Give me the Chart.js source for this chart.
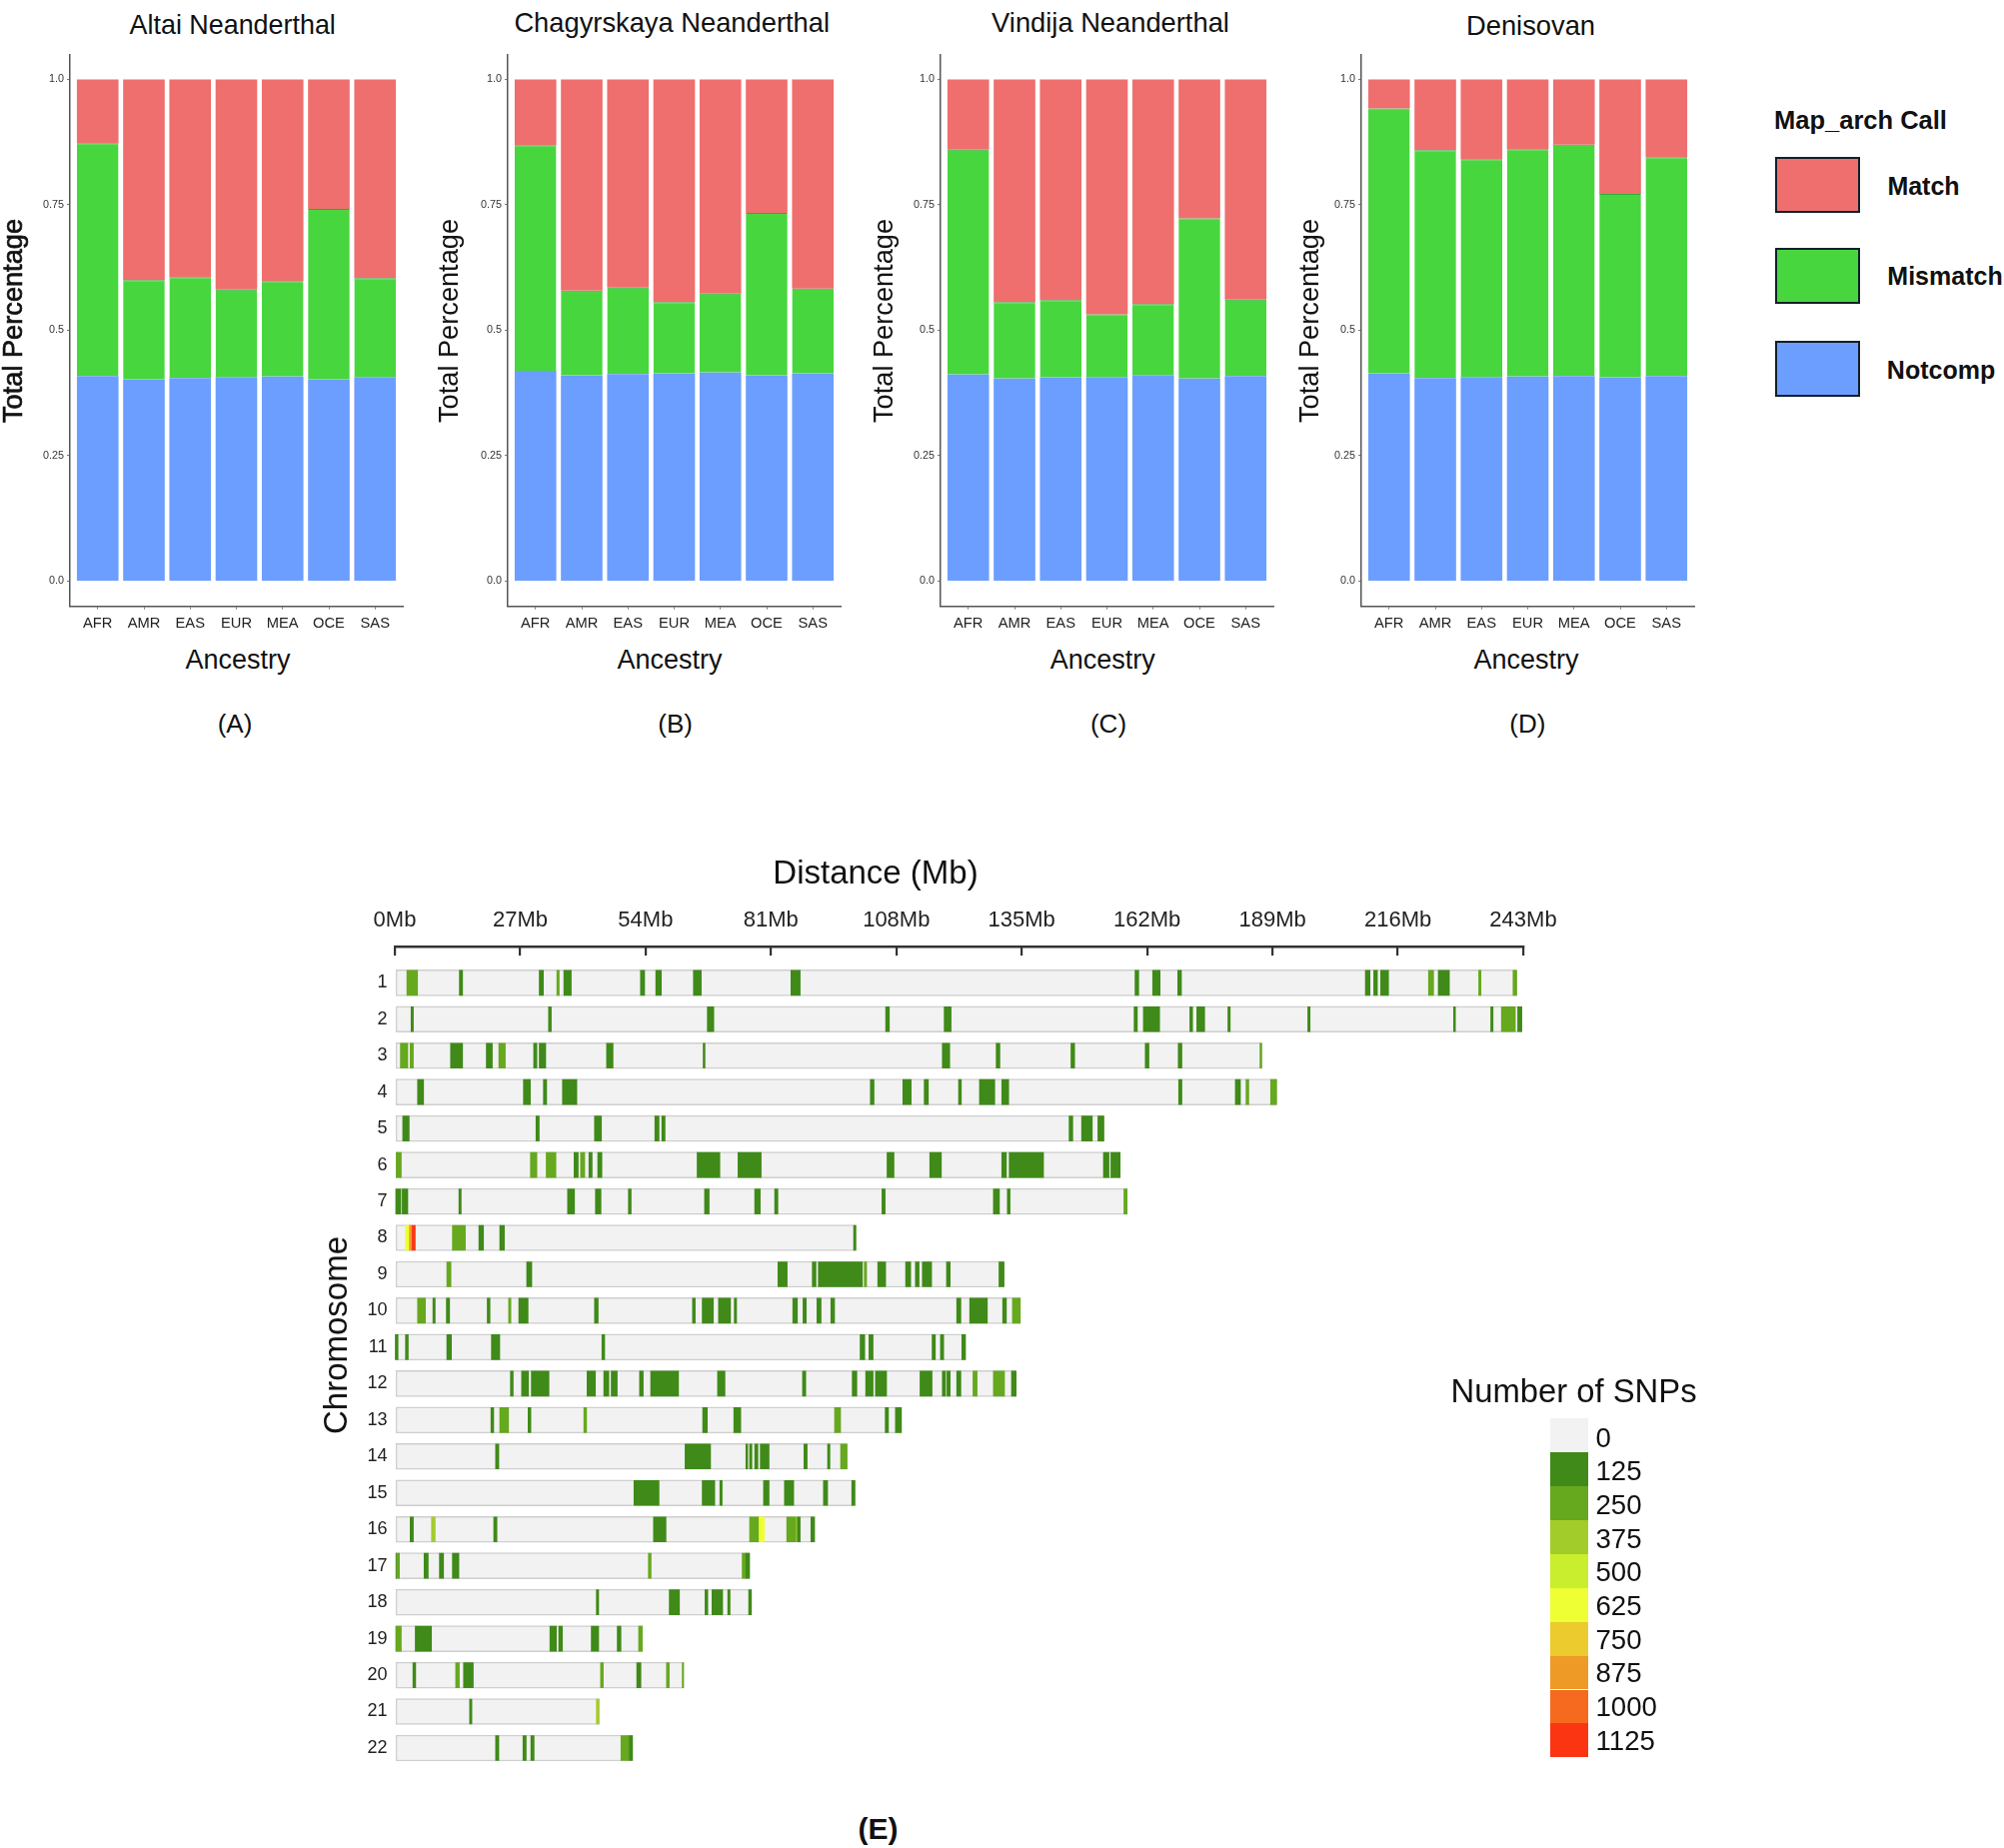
<!DOCTYPE html>
<html>
<head>
<meta charset="utf-8">
<title>Archaic match</title>
<script src="https://cdn.jsdelivr.net/npm/chart.js@4/dist/chart.umd.min.js"></script>
<style>
  html, body { margin: 0; background: #fff; }
  #page { position: relative; width: 2005px; height: 1849px; overflow: hidden; font-family: "Liberation Sans", Arial, sans-serif; color: #111; }
  #page canvas { position: absolute; }
  .txt { position: absolute; white-space: nowrap; transform: translate(-50%, -50%); }
  .box { position: absolute; }
</style>
</head>
<body>
<div id="page"></div>
<script>
const ancestry = ['AFR', 'AMR', 'EAS', 'EUR', 'MEA', 'OCE', 'SAS'];
const yTicks = [0, 0.25, 0.5, 0.75, 1];

const altaiNotcomp = [0.409, 0.402, 0.405, 0.407, 0.408, 0.402, 0.407];
const altaiMismatch = [0.464, 0.198, 0.201, 0.174, 0.190, 0.340, 0.197];
const altaiMatch = [0.127, 0.400, 0.394, 0.419, 0.402, 0.258, 0.396];

const chagyrNotcomp = [0.419, 0.410, 0.413, 0.414, 0.416, 0.410, 0.414];
const chagyrMismatch = [0.450, 0.169, 0.172, 0.142, 0.157, 0.324, 0.169];
const chagyrMatch = [0.131, 0.421, 0.415, 0.444, 0.427, 0.266, 0.417];

const vindijaNotcomp = [0.412, 0.404, 0.406, 0.407, 0.411, 0.404, 0.409];
const vindijaMismatch = [0.448, 0.152, 0.154, 0.125, 0.141, 0.319, 0.152];
const vindijaMatch = [0.140, 0.444, 0.440, 0.468, 0.448, 0.277, 0.439];

const denisovaNotcomp = [0.414, 0.405, 0.407, 0.408, 0.409, 0.406, 0.409];
const denisovaMismatch = [0.528, 0.454, 0.434, 0.453, 0.461, 0.366, 0.436];
const denisovaMatch = [0.058, 0.141, 0.159, 0.139, 0.130, 0.228, 0.155];

const chromosomes = ['1','2','3','4','5','6','7','8','9','10','11','12','13','14','15','16','17','18','19','20','21','22'];
const chrLengths = [241.6, 242.7, 186.7, 189.9, 152.7, 156.2, 157.7, 99.3, 131.2, 134.7, 122.9, 133.8, 109.1, 97.4, 99.1, 90.4, 76.4, 76.8, 53.3, 62.2, 44.0, 51.2];
const distanceTicks = [0, 27, 54, 81, 108, 135, 162, 189, 216, 243];
const snpBins = [0, 125, 250, 375, 500, 625, 750, 875, 1000, 1125];

// start Mb, end Mb, number of SNPs
const chr1 = [[2.6,4.9,250],[13.9,14.6,125],[31.1,32.0,125],[34.9,35.4,250],[36.4,38.0,125],[52.9,53.8,125],[56.2,57.4,125],[64.3,66.0,125],[85.3,87.3,125],[159.4,160.2,125],[163.2,164.8,125],[168.6,169.4,125],[209.0,210.0,125],[210.8,211.6,125],[212.3,214.0,125],[222.6,223.7,250],[224.7,227.1,125],[233.4,233.9,250],[240.8,241.6,250]];
const chr2 = [[3.5,4.0,125],[33.1,33.7,125],[67.3,68.7,125],[105.7,106.5,125],[118.3,119.8,125],[159.2,159.9,125],[161.2,164.7,125],[171.2,171.8,125],[172.7,174.4,125],[179.4,179.9,125],[196.6,197.1,125],[228.0,228.4,125],[236.0,236.5,125],[238.3,240.2,250],[240.2,241.3,250],[241.8,242.7,125]];
const chr3 = [[1.2,2.8,250],[3.3,4.0,250],[12.0,14.6,125],[19.7,21.0,125],[22.4,23.8,250],[29.9,30.6,125],[31.1,32.5,125],[45.6,47.0,125],[66.4,66.8,125],[117.9,119.5,125],[129.5,130.3,125],[145.6,146.4,125],[161.6,162.4,125],[168.7,169.5,125],[186.3,186.7,250]];
const chr4 = [[4.9,6.2,125],[27.7,29.2,125],[32.0,32.7,125],[36.1,39.2,125],[102.4,103.2,125],[109.4,111.2,125],[114.0,114.9,125],[121.4,122.0,125],[125.9,129.2,125],[130.7,132.2,125],[168.8,169.5,125],[181.0,182.1,125],[183.3,183.9,250],[188.6,189.9,250]];
const chr5 = [[1.7,3.1,125],[30.4,31.1,125],[43.0,44.5,125],[56.0,56.9,125],[57.5,58.2,125],[145.2,146.0,125],[147.9,150.2,125],[151.4,152.7,125]];
const chr6 = [[0.3,1.4,250],[29.2,30.6,250],[32.6,34.7,250],[38.6,39.5,125],[40.0,40.9,250],[41.8,42.5,125],[43.7,44.6,125],[65.1,70.0,125],[73.9,78.9,125],[106.0,107.5,125],[115.2,117.7,125],[130.7,131.7,125],[132.3,139.7,125],[152.6,153.8,125],[154.2,156.2,125]];
const chr7 = [[0.2,1.3,125],[1.6,2.8,125],[13.8,14.3,125],[37.2,38.7,125],[43.2,44.4,125],[50.3,50.9,125],[66.7,67.7,125],[77.5,78.7,125],[81.8,82.5,125],[104.9,105.6,125],[128.9,130.2,125],[131.9,132.5,125],[157.0,157.7,250]];
const chr8 = [[2.3,3.0,625],[3.0,3.6,875],[3.6,4.4,1125],[12.4,15.2,250],[18.1,19.1,125],[22.6,23.6,125],[98.8,99.3,125]];
const chr9 = [[11.2,12.1,250],[28.4,29.5,125],[82.5,84.5,125],[89.9,90.7,125],[91.2,100.7,125],[101.1,101.6,250],[104.0,105.7,125],[110.0,111.1,125],[112.1,112.9,125],[113.6,115.6,125],[118.8,119.6,125],[130.1,131.2,125]];
const chr10 = [[4.9,6.6,250],[8.2,8.7,125],[11.1,11.8,125],[19.9,20.5,125],[24.5,25.0,250],[26.7,28.7,125],[43.0,43.8,125],[64.1,64.7,125],[66.2,68.6,125],[69.7,72.3,125],[73.1,73.6,125],[85.7,86.7,125],[87.9,88.6,125],[90.9,91.8,125],[93.9,94.7,125],[121.0,121.9,125],[123.8,127.6,125],[130.9,131.7,125],[133.0,134.7,250]];
const chr11 = [[0.1,0.7,125],[2.3,2.9,125],[11.2,12.2,125],[20.8,22.6,125],[44.6,45.2,125],[100.2,101.2,125],[102.1,103.0,125],[115.7,116.4,125],[117.5,118.2,125],[122.1,122.9,125]];
const chr12 = [[24.9,25.5,125],[27.3,28.8,125],[29.4,33.2,125],[41.4,43.2,125],[45.0,46.1,125],[46.6,47.9,125],[52.7,53.5,125],[55.1,61.1,125],[69.5,71.1,125],[87.8,88.5,125],[98.5,99.5,125],[101.4,103.0,125],[103.5,105.9,125],[113.1,115.7,125],[117.9,118.6,125],[118.9,119.6,125],[121.0,121.9,125],[124.5,125.4,250],[128.9,131.3,250],[132.8,133.8,125]];
const chr13 = [[20.7,21.3,125],[22.6,24.5,250],[28.7,29.3,125],[40.7,41.3,250],[66.3,67.3,125],[73.0,74.5,125],[94.7,96.0,250],[105.6,106.3,125],[107.8,109.1,125]];
const chr14 = [[21.7,22.4,125],[62.5,68.0,125],[75.6,76.0,125],[76.4,76.9,125],[77.5,78.2,125],[78.7,80.6,125],[88.1,88.8,125],[93.2,93.7,125],[96.0,97.4,250]];
const chr15 = [[51.5,56.9,125],[66.2,68.9,125],[70.0,70.5,125],[79.4,80.6,125],[83.9,85.9,125],[92.3,93.2,125],[98.4,99.1,125]];
const chr16 = [[3.3,4.0,125],[7.9,8.7,375],[21.3,22.0,125],[55.7,58.4,125],[76.4,78.3,250],[78.3,79.6,625],[84.4,86.3,250],[86.3,86.7,375],[86.7,87.3,125],[89.6,90.4,125]];
const chr17 = [[0,0.3,125],[0.4,1.0,250],[6.3,7.2,125],[9.6,10.5,125],[12.4,13.8,125],[54.6,55.2,250],[74.8,75.6,250],[75.6,76.4,125]];
const chr18 = [[43.4,43.9,125],[59.1,61.3,125],[66.8,67.4,125],[68.3,70.6,125],[71.7,72.2,125],[76.2,76.8,125]];
const chr19 = [[0.2,1.4,250],[4.4,5.0,125],[5.0,7.9,125],[33.4,34.8,125],[35.3,36.1,125],[42.3,43.9,125],[47.9,48.7,125],[52.5,53.3,250]];
const chr20 = [[3.9,4.5,125],[13.1,13.9,250],[14.8,16.9,125],[44.3,44.9,250],[52.1,53.0,125],[58.5,59.1,250],[61.9,62.2,250]];
const chr21 = [[16.1,16.6,125],[43.4,44.0,375]];
const chr22 = [[21.7,22.4,125],[27.6,28.3,125],[29.3,30.0,125],[48.7,50.5,250],[50.5,51.2,125]];
const chrSegments = [chr1, chr2, chr3, chr4, chr5, chr6, chr7, chr8, chr9, chr10, chr11, chr12, chr13, chr14, chr15, chr16, chr17, chr18, chr19, chr20, chr21, chr22];

const RED = '#ee6f6e';
const GREEN = '#48d63e';
const BLUE = '#6c9eff';
const binColors = ['#f2f2f2', '#3f8a18', '#66a81e', '#a2cc2a', '#c8ee2e', '#eeff33', '#ebcb2e', '#ed9a26', '#f56a1e', '#fb3512'];

const FONT = '"Liberation Sans", Arial, sans-serif';
const page = document.getElementById('page');
Chart.defaults.font.family = FONT;
Chart.defaults.animation = false;
Chart.defaults.responsive = false;

function addText(text, x, y, size, extra) {
  const el = document.createElement('div');
  el.className = 'txt';
  el.textContent = text;
  el.style.left = x + 'px';
  el.style.top = y + 'px';
  el.style.fontSize = size + 'px';
  if (extra) Object.assign(el.style, extra);
  page.appendChild(el);
}

function addBox(x, y, w, h, color, border) {
  const el = document.createElement('div');
  el.className = 'box';
  el.style.cssText = 'left:' + x + 'px;top:' + y + 'px;width:' + w + 'px;height:' + h + 'px;background:' + color + ';';
  if (border) { el.style.border = border; el.style.boxSizing = 'border-box'; }
  page.appendChild(el);
}

function addCanvas(x, y, w, h) {
  const c = document.createElement('canvas');
  c.width = w;
  c.height = h;
  c.style.left = x + 'px';
  c.style.top = y + 'px';
  page.appendChild(c);
  return c;
}

function points(values) {
  return values.map((v, i) => ({ x: i + 1, y: v }));
}

function stackedPanel(axisX, notcomp, mismatch, match) {
  const canvas = addCanvas(axisX - 60, 44, 60 + 333 + 8, 596);
  return new Chart(canvas, {
    type: 'bar',
    data: {
      datasets: [
        { label: 'Notcomp', data: points(notcomp), backgroundColor: BLUE, stack: 'all' },
        { label: 'Mismatch', data: points(mismatch), backgroundColor: GREEN, stack: 'all', borderColor: '#35a83a', borderWidth: { top: 1 }, borderSkipped: false },
        { label: 'Match', data: points(match), backgroundColor: RED, stack: 'all' }
      ]
    },
    options: {
      layout: { padding: { top: 10.3, right: 8 } },
      datasets: { bar: { barPercentage: 0.9, categoryPercentage: 1 } },
      plugins: { legend: { display: false }, tooltip: { enabled: false } },
      scales: {
        x: {
          type: 'linear', min: 0.4, max: 7.6, offset: false,
          border: { color: '#555', width: 1.5 },
          grid: { offset: false, drawOnChartArea: false, tickLength: 3, color: '#777' },
          afterFit: s => { s.height = 33.4; },
          afterBuildTicks: s => { s.ticks = ancestry.map((a, i) => ({ value: i + 1 })); },
          ticks: { autoSkip: false, maxRotation: 0, padding: 6, color: '#222', font: { size: 14.7 }, callback: v => ancestry[v - 1] }
        },
        y: {
          stacked: true, min: -0.05, max: 1.05,
          border: { color: '#555', width: 1.5 },
          grid: { drawOnChartArea: false, tickLength: 3, color: '#777' },
          afterFit: s => { s.width = 60; },
          afterBuildTicks: s => { s.ticks = yTicks.map(v => ({ value: v })); },
          ticks: { padding: 3, color: '#333', font: { size: 10.8 }, callback: v => (v === 0 ? '0.0' : v === 1 ? '1.0' : String(v)) }
        }
      }
    }
  });
}

stackedPanel(70, altaiNotcomp, altaiMismatch, altaiMatch);
stackedPanel(507.7, chagyrNotcomp, chagyrMismatch, chagyrMatch);
stackedPanel(941, vindijaNotcomp, vindijaMismatch, vindijaMatch);
stackedPanel(1361.6, denisovaNotcomp, denisovaMismatch, denisovaMatch);

addText('Altai Neanderthal', 232.7, 25, 26.9);
addText('Chagyrskaya Neanderthal', 672.2, 23, 27.3);
addText('Vindija Neanderthal', 1111, 23, 27.3);
addText('Denisovan', 1531.5, 25.5, 27.3);

const ROT = 'translate(-50%, -50%) rotate(-90deg)';
addText('Total Percentage', 13, 321, 27.2, { transform: ROT, webkitTextStroke: '0.7px #111' });
addText('Total Percentage', 449, 321, 27.2, { transform: ROT });
addText('Total Percentage', 884, 321, 27.2, { transform: ROT });
addText('Total Percentage', 1310, 321, 27.2, { transform: ROT });

addText('Ancestry', 238, 660, 27);
addText('Ancestry', 670, 660, 27);
addText('Ancestry', 1103.3, 660, 27);
addText('Ancestry', 1527, 660, 27);

addText('(A)', 235, 724, 26);
addText('(B)', 675.7, 724, 26);
addText('(C)', 1109, 724, 26);
addText('(D)', 1528.4, 724, 26);

// legend of the stacked panels
addText('Map_arch Call', 1861.5, 120, 25.5, { fontWeight: 'bold' });
addBox(1776, 157, 85, 56, RED, '2.5px solid #10202a');
addBox(1776, 248, 85, 56, GREEN, '2.5px solid #10202a');
addBox(1776, 341, 85, 56, BLUE, '2.5px solid #10202a');
addText('Match', 1924.5, 186, 25, { fontWeight: 'bold' });
addText('Mismatch', 1946, 276, 25, { fontWeight: 'bold' });
addText('Notcomp', 1942, 370, 25, { fontWeight: 'bold' });

// chromosome map
function binSegments(bin) {
  const out = [];
  chrSegments.forEach((segs, i) => {
    segs.forEach(s => {
      if (s[2] === bin) out.push({ y: i + 1, x: [s[0], s[1]] });
    });
  });
  return out;
}

const mapDatasets = snpBins.slice(1)
  .map((bin, i) => ({ label: String(bin), data: binSegments(bin), backgroundColor: binColors[i + 1], grouped: false, barThickness: 25 }))
  .filter(d => d.data.length > 0);
mapDatasets.push({
  label: '0',
  data: chrLengths.map((len, i) => ({ y: i + 1, x: [0, len] })),
  backgroundColor: binColors[0],
  borderColor: '#cfcfcf',
  borderWidth: 1.5,
  borderSkipped: false,
  grouped: false,
  barThickness: 26
});

new Chart(addCanvas(300, 880, 1300, 900), {
  type: 'bar',
  data: { datasets: mapDatasets },
  options: {
    indexAxis: 'y',
    layout: { padding: { right: 76, bottom: 12.8 } },
    plugins: { legend: { display: false }, tooltip: { enabled: false } },
    scales: {
      x: {
        type: 'linear', position: 'top', min: 0, max: 243,
        border: { color: '#333', width: 2.4 },
        grid: { drawOnChartArea: false, tickLength: -9.3, color: '#333', lineWidth: 2.2 },
        afterFit: s => { s.height = 66.84; },
        afterBuildTicks: s => { s.ticks = distanceTicks.map(v => ({ value: v })); },
        ticks: { autoSkip: false, maxRotation: 0, padding: 22, color: '#222', font: { size: 22 }, callback: v => v + 'Mb' }
      },
      y: {
        type: 'linear', reverse: true, min: 0, max: 22.5, offset: false,
        border: { display: false },
        grid: { offset: false, display: false, drawTicks: false },
        // label padding would otherwise shrink the chart area at the bottom
        afterFit: s => { s.width = 95; s.paddingTop = 0; s.paddingBottom = 0; },
        afterBuildTicks: s => { s.ticks = chromosomes.map((c, i) => ({ value: i + 1 })); },
        ticks: { autoSkip: false, padding: 7.5, color: '#222', font: { size: 18 }, callback: v => chromosomes[v - 1] }
      }
    }
  }
});

addText('Distance (Mb)', 876, 873, 33);
addText('Chromosome', 336, 1336, 33, { transform: ROT });
addText('(E)', 878.5, 1830, 30, { fontWeight: 'bold' });

// SNP colour key
addText('Number of SNPs', 1574.5, 1392, 32.8);
snpBins.forEach((bin, i) => {
  addBox(1551.3, 1419.3 + i * 33.9, 38, 33.9, binColors[i]);
  addText(String(bin), 1596.5, 1438.5 + i * 33.7, 27.6, { transform: 'translate(0, -50%)' });
});
</script>
</body>
</html>
